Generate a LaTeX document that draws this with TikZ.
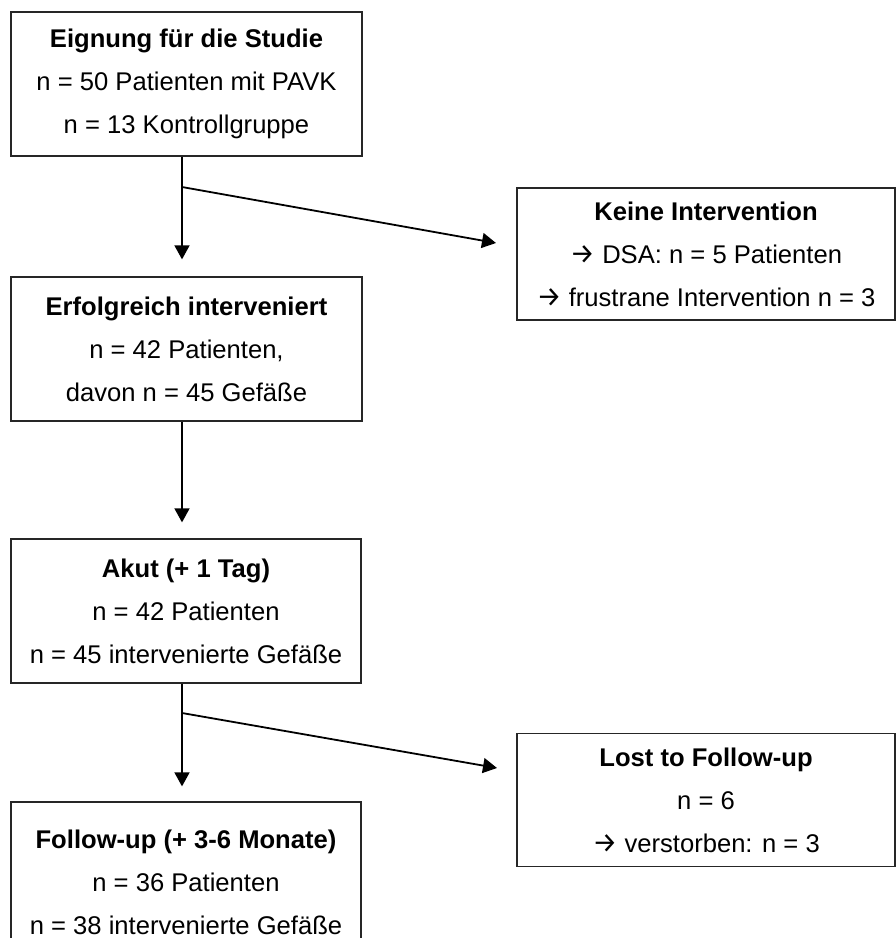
\documentclass[tikz,border=0pt]{standalone}
\usepackage{fontspec}
\setmainfont{Liberation Sans}
\newfontfamily\arrfont{Fira Sans}
\newcommand{\rarr}{{\arrfont\fontsize{28}{28}\selectfont →}}
\usetikzlibrary{arrows.meta}
\begin{document}
\begin{tikzpicture}[x=1pt,y=-1pt,
  box/.style={draw=black!85, line width=1.3pt, rectangle, inner sep=0pt, align=center, font=\fontsize{25.6}{43}\selectfont},
  conn/.style={line width=1.8pt, black},
  arr/.style={conn, -{Triangle[length=14pt,width=15pt]}}]
\useasboundingbox (0,0) rectangle (896,938);
\node[box, minimum width=351pt, minimum height=144pt] (b1) at (186.5,84)
  {\textbf{Eignung für die Studie}\\n = 50 Patienten mit PAVK\\n = 13 Kontrollgruppe};
\node[box, minimum width=351pt, minimum height=144pt] (b2) at (186.5,349)
  {\textbf{Erfolgreich interveniert}\\n = 42 Patienten,\\davon n = 45 Gefäße};
\node[box, minimum width=350pt, minimum height=144pt] (b3) at (186,611)
  {\textbf{Akut (+ 1 Tag)}\\n = 42 Patienten\\n = 45 intervenierte Gefäße};
\node[box, minimum width=350pt, minimum height=160pt] (b4) at (186,882)
  {\textbf{Follow-up (+ 3-6 Monate)}\\n = 36 Patienten\\n = 38 intervenierte Gefäße};
\node[box, minimum width=378pt, minimum height=132pt] (k) at (706,254)
  {\textbf{Keine Intervention}\\\rarr{} DSA: n = 5 Patienten\\\rarr{} frustrane Intervention n = 3};
\node[box, minimum width=378pt, minimum height=133pt] (l) at (706,800)
  {\textbf{Lost to Follow-up}\\n = 6\\\rarr{} verstorben: n = 3};
\coordinate (s1) at (182,187);
\coordinate (t1) at (496,243);
\coordinate (s2) at (182,713);
\coordinate (t2) at (497,768);
\draw[conn] (b1.south -| s1) -- (s1);
\draw[arr, shorten >=17pt] (s1) -- (s1 |- b2.north);
\draw[arr] (s1) -- (t1);
\draw[arr, shorten >=16pt] (b2.south -| s1) -- (s1 |- b3.north);
\draw[conn] (b3.south -| s2) -- (s2);
\draw[arr, shorten >=15pt] (s2) -- (s2 |- b4.north);
\draw[arr] (s2) -- (t2);
\end{tikzpicture}
\end{document}
